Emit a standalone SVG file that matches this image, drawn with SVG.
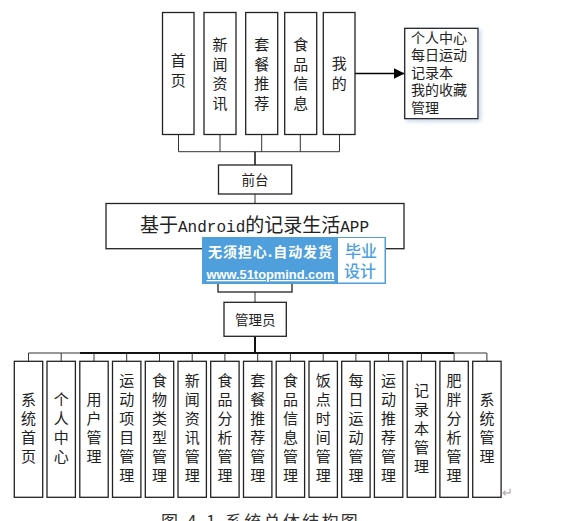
<svg xmlns="http://www.w3.org/2000/svg" width="588" height="521" viewBox="0 0 588 521">
<defs>
<marker id="arr" markerUnits="userSpaceOnUse" markerWidth="12" markerHeight="12" refX="11" refY="6" orient="auto"><path d="M0 0.5L11 6L0 11.5Z" fill="#000"/></marker>
<filter id="sh" x="-10%" y="-10%" width="125%" height="125%"><feDropShadow dx="2" dy="2" stdDeviation="2" flood-color="#9db8d8" flood-opacity="0.6"/></filter>
</defs>
<style>
text{font-family:"Noto Sans CJK SC","Liberation Sans",sans-serif;fill:#222}
rect{fill:#fff;stroke:#222;stroke-width:1.3}
.c{fill:none;stroke:#333;stroke-width:1}
.t{font-size:15px;text-anchor:middle}
.wm{fill:#fff}
</style>
<rect width="588" height="521" style="fill:#fff;stroke:none"/>
<g id="connectors">
<path class="c" d="M178.5 134.5V151.7M220 134.5V151.7M261.7 134.5V151.7M300.3 134.5V151.7M339.5 134.5V151.7M178.5 151.7H339.5"/>
<path class="c" style="stroke-width:1.5;stroke:#111" d="M255 151.7V165"/>
<path class="c" d="M255 194V203.5M255 292V302.3"/>
<path class="c" style="stroke-width:2;stroke:#111" d="M255 336.3V353M80 353H454"/>
<path class="c" style="stroke-width:1.5;stroke:#777" d="M28.5 353H80M454 353H486.7"/>
<path class="c" d="M28.5 353V361.3M61.2 353V361.3M94 353V361.3M126.7 353V361.3M159.5 353V361.3M192.2 353V361.3M224.9 353V361.3M257.7 353V361.3M290.4 353V361.3M323.2 353V361.3M355.9 353V361.3M388.6 353V361.3M421.4 353V361.3M454.1 353V361.3M486.9 353V361.3"/>
<path class="c" style="stroke:#000;stroke-width:1.5" d="M355 73.5H404.5" marker-end="url(#arr)"/>
</g>
<g id="n-home"><rect x="162.5" y="12.5" width="31.5" height="122"/><text class="t" y="66"><tspan x="178.3">首</tspan><tspan x="178.3" dy="19.5">页</tspan></text></g>
<g id="n-news"><rect x="204" y="12.5" width="32" height="122"/><text class="t" y="50"><tspan x="220">新</tspan><tspan x="220" dy="19.5">闻</tspan><tspan x="220" dy="19.5">资</tspan><tspan x="220" dy="19.5">讯</tspan></text></g>
<g id="n-combo"><rect x="245.7" y="12.5" width="32" height="122"/><text class="t" y="50"><tspan x="261.7">套</tspan><tspan x="261.7" dy="19.5">餐</tspan><tspan x="261.7" dy="19.5">推</tspan><tspan x="261.7" dy="19.5">荐</tspan></text></g>
<g id="n-food"><rect x="284.7" y="12.5" width="32" height="122"/><text class="t" y="50"><tspan x="300.7">食</tspan><tspan x="300.7" dy="19.5">品</tspan><tspan x="300.7" dy="19.5">信</tspan><tspan x="300.7" dy="19.5">息</tspan></text></g>
<g id="n-mine"><rect x="323.3" y="12.5" width="31.7" height="122"/><text class="t" y="69"><tspan x="339.2">我</tspan><tspan x="339.2" dy="19.5">的</tspan></text></g>
<g id="n-mine-detail"><rect x="404.7" y="28.3" width="73.3" height="90.4" filter="url(#sh)"/><text style="font-size:14px" y="43"><tspan x="411">个人中心</tspan><tspan x="411" dy="17.4">每日运动</tspan><tspan x="411" dy="17.4">记录本</tspan><tspan x="411" dy="17.4">我的收藏</tspan><tspan x="411" dy="17.4">管理</tspan></text></g>
<g id="n-front"><rect x="218.5" y="165" width="73.2" height="29"/><text class="t" style="font-size:13.5px" x="255" y="184.5">前台</text></g>
<g id="n-app"><rect x="106" y="203.5" width="298" height="45.2"/><text style="font-size:19px" x="140" y="231.5">基于<tspan style="font-family:'Liberation Mono',monospace;font-size:16px">Android</tspan>的记录生活<tspan style="font-family:'Liberation Mono',monospace;font-size:16px">APP</tspan></text></g>
<g id="n-hidden"><rect x="218" y="262" width="74" height="30"/></g>
<g id="n-admin"><rect x="224" y="302.3" width="62.3" height="34"/><text class="t" style="font-size:13.5px" x="255.2" y="324.5">管理员</text></g>
<g id="b1"><rect x="14.3" y="361.3" width="28.4" height="136"/><text class="t" y="405"><tspan x="28.5">系</tspan><tspan x="28.5" dy="19">统</tspan><tspan x="28.5" dy="19">首</tspan><tspan x="28.5" dy="19">页</tspan></text></g>
<g id="b2"><rect x="47" y="361.3" width="28.4" height="136"/><text class="t" y="405"><tspan x="61.2">个</tspan><tspan x="61.2" dy="19">人</tspan><tspan x="61.2" dy="19">中</tspan><tspan x="61.2" dy="19">心</tspan></text></g>
<g id="b3"><rect x="79.8" y="361.3" width="28.4" height="136"/><text class="t" y="405"><tspan x="94">用</tspan><tspan x="94" dy="19">户</tspan><tspan x="94" dy="19">管</tspan><tspan x="94" dy="19">理</tspan></text></g>
<g id="b4"><rect x="112.5" y="361.3" width="28.4" height="136"/><text class="t" y="386"><tspan x="126.7">运</tspan><tspan x="126.7" dy="19">动</tspan><tspan x="126.7" dy="19">项</tspan><tspan x="126.7" dy="19">目</tspan><tspan x="126.7" dy="19">管</tspan><tspan x="126.7" dy="19">理</tspan></text></g>
<g id="b5"><rect x="145.3" y="361.3" width="28.4" height="136"/><text class="t" y="386"><tspan x="159.5">食</tspan><tspan x="159.5" dy="19">物</tspan><tspan x="159.5" dy="19">类</tspan><tspan x="159.5" dy="19">型</tspan><tspan x="159.5" dy="19">管</tspan><tspan x="159.5" dy="19">理</tspan></text></g>
<g id="b6"><rect x="178" y="361.3" width="28.4" height="136"/><text class="t" y="386"><tspan x="192.2">新</tspan><tspan x="192.2" dy="19">闻</tspan><tspan x="192.2" dy="19">资</tspan><tspan x="192.2" dy="19">讯</tspan><tspan x="192.2" dy="19">管</tspan><tspan x="192.2" dy="19">理</tspan></text></g>
<g id="b7"><rect x="210.7" y="361.3" width="28.4" height="136"/><text class="t" y="386"><tspan x="224.9">食</tspan><tspan x="224.9" dy="19">品</tspan><tspan x="224.9" dy="19">分</tspan><tspan x="224.9" dy="19">析</tspan><tspan x="224.9" dy="19">管</tspan><tspan x="224.9" dy="19">理</tspan></text></g>
<g id="b8"><rect x="243.5" y="361.3" width="28.4" height="136"/><text class="t" y="386"><tspan x="257.7">套</tspan><tspan x="257.7" dy="19">餐</tspan><tspan x="257.7" dy="19">推</tspan><tspan x="257.7" dy="19">荐</tspan><tspan x="257.7" dy="19">管</tspan><tspan x="257.7" dy="19">理</tspan></text></g>
<g id="b9"><rect x="276.2" y="361.3" width="28.4" height="136"/><text class="t" y="386"><tspan x="290.4">食</tspan><tspan x="290.4" dy="19">品</tspan><tspan x="290.4" dy="19">信</tspan><tspan x="290.4" dy="19">息</tspan><tspan x="290.4" dy="19">管</tspan><tspan x="290.4" dy="19">理</tspan></text></g>
<g id="b10"><rect x="309" y="361.3" width="28.4" height="136"/><text class="t" y="386"><tspan x="323.2">饭</tspan><tspan x="323.2" dy="19">点</tspan><tspan x="323.2" dy="19">时</tspan><tspan x="323.2" dy="19">间</tspan><tspan x="323.2" dy="19">管</tspan><tspan x="323.2" dy="19">理</tspan></text></g>
<g id="b11"><rect x="341.7" y="361.3" width="28.4" height="136"/><text class="t" y="386"><tspan x="355.9">每</tspan><tspan x="355.9" dy="19">日</tspan><tspan x="355.9" dy="19">运</tspan><tspan x="355.9" dy="19">动</tspan><tspan x="355.9" dy="19">管</tspan><tspan x="355.9" dy="19">理</tspan></text></g>
<g id="b12"><rect x="374.4" y="361.3" width="28.4" height="136"/><text class="t" y="386"><tspan x="388.6">运</tspan><tspan x="388.6" dy="19">动</tspan><tspan x="388.6" dy="19">推</tspan><tspan x="388.6" dy="19">荐</tspan><tspan x="388.6" dy="19">管</tspan><tspan x="388.6" dy="19">理</tspan></text></g>
<g id="b13"><rect x="407.2" y="361.3" width="28.4" height="136"/><text class="t" y="396"><tspan x="421.4">记</tspan><tspan x="421.4" dy="19">录</tspan><tspan x="421.4" dy="19">本</tspan><tspan x="421.4" dy="19">管</tspan><tspan x="421.4" dy="19">理</tspan></text></g>
<g id="b14"><rect x="439.9" y="361.3" width="28.4" height="136"/><text class="t" y="386"><tspan x="454.1">肥</tspan><tspan x="454.1" dy="19">胖</tspan><tspan x="454.1" dy="19">分</tspan><tspan x="454.1" dy="19">析</tspan><tspan x="454.1" dy="19">管</tspan><tspan x="454.1" dy="19">理</tspan></text></g>
<g id="b15"><rect x="472.7" y="361.3" width="28.4" height="136"/><text class="t" y="405"><tspan x="486.9">系</tspan><tspan x="486.9" dy="19">统</tspan><tspan x="486.9" dy="19">管</tspan><tspan x="486.9" dy="19">理</tspan></text></g>
<g id="watermark">
<rect x="202" y="237" width="184" height="47" style="fill:#4f9fdc;stroke:none"/>
<rect x="338" y="238" width="46.5" height="44.5" style="fill:#fff;stroke:none"/>
<text style="font-size:14px;font-weight:700;fill:#fff" x="208" y="257" textLength="124">无须担心.自动发货</text>
<text style="font-size:13px;font-weight:700;fill:#fff;font-family:'Liberation Sans',sans-serif;text-decoration:underline" x="206.5" y="279" textLength="128" lengthAdjust="spacingAndGlyphs">www.51topmind.com</text>
<text style="font-size:16px;font-weight:500;fill:#4f9fdc" x="345" y="257">毕业</text>
<text style="font-size:16px;font-weight:500;fill:#4f9fdc" x="344" y="277">设计</text>
</g>
<text style="font-size:17px;fill:#333" x="161" y="528">图 <tspan x="187" letter-spacing="2">4-1</tspan><tspan x="225" letter-spacing="2.3">系统总体结构图</tspan></text>
<text style="font-size:13px;fill:#aaa" x="502" y="497">↵</text>
</svg>
